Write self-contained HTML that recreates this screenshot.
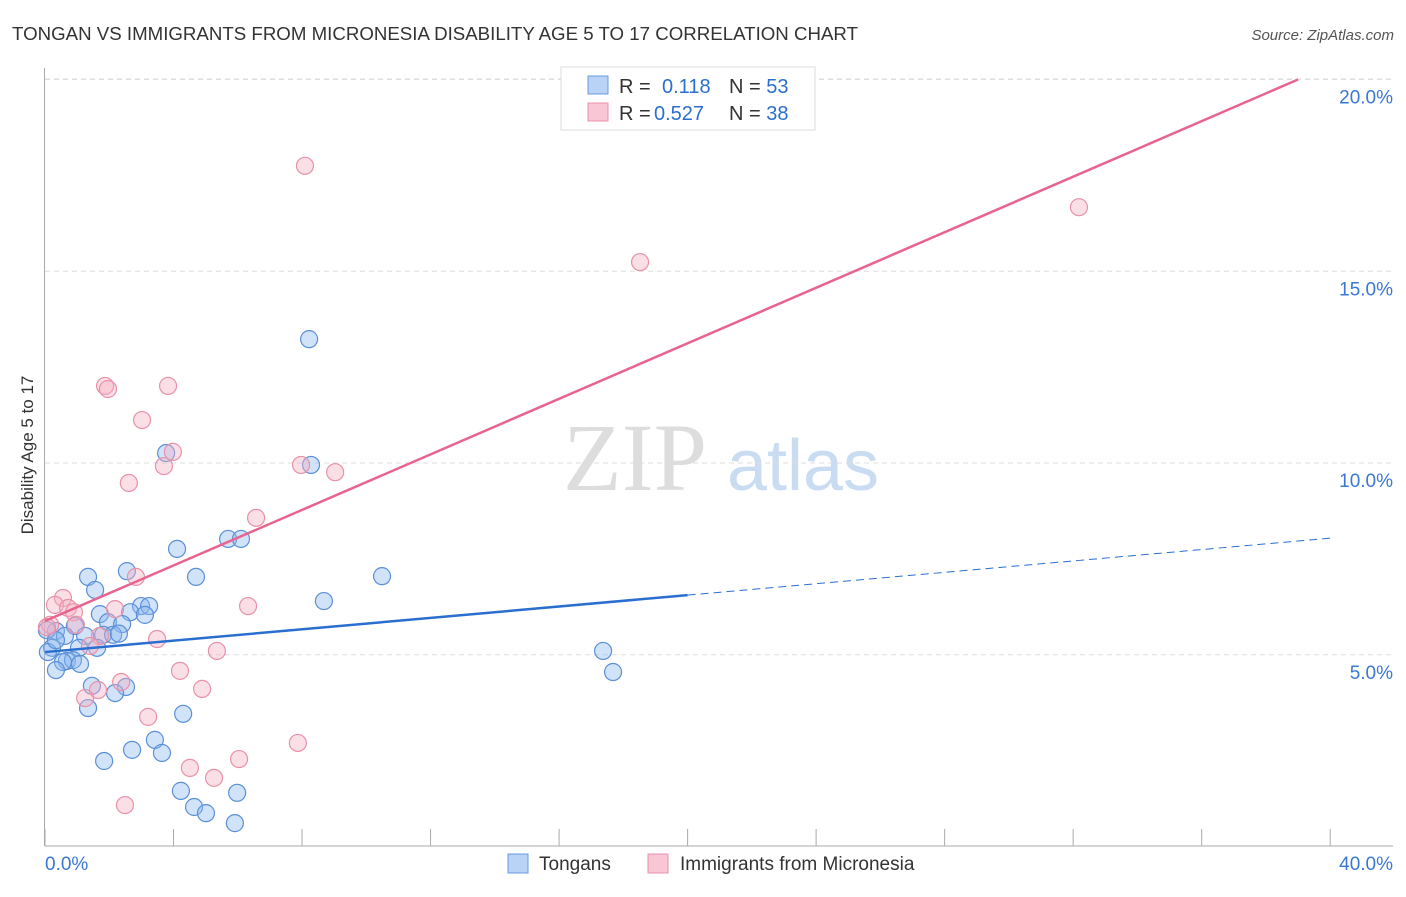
<!DOCTYPE html>
<html><head><meta charset="utf-8"><style>
body{margin:0;background:#fff;font-family:"Liberation Sans",sans-serif}
</style></head><body>
<svg id="chart" width="1406" height="892" xmlns="http://www.w3.org/2000/svg">
<text x="12" y="40" font-size="18" fill="#333" textLength="846" lengthAdjust="spacingAndGlyphs">TONGAN VS IMMIGRANTS FROM MICRONESIA DISABILITY AGE 5 TO 17 CORRELATION CHART</text>
<text x="1394" y="40" font-size="15" fill="#555" font-style="italic" text-anchor="end">Source: ZipAtlas.com</text>
<text transform="translate(33,455) rotate(-90)" font-size="17" fill="#333" text-anchor="middle">Disability Age 5 to 17</text>
<g>
<text x="635" y="490" font-size="96" fill="#ddd" font-family="Liberation Serif,serif" text-anchor="middle">ZIP</text>
<text x="803" y="490" font-size="72" fill="#c9dcf2" text-anchor="middle">atlas</text>
</g>
<g id="grid"></g><g id="axes"></g><g id="pts"></g><g id="lines"></g>
<g>
<rect x="561" y="67" width="254" height="63" fill="#fff" stroke="#ddd"/>
<rect x="588" y="76" width="20" height="18" fill="#b8d3f5" stroke="#6a9ae0"/>
<text x="619" y="93" font-size="20" fill="#333">R = <tspan x="662" fill="#2a6fd0">0.118</tspan><tspan x="729">N = </tspan><tspan fill="#2a6fd0">53</tspan></text>
<rect x="588" y="103" width="20" height="18" fill="#f8c6d4" stroke="#e891a8"/>
<text x="619" y="120" font-size="20" fill="#333">R = <tspan x="654" fill="#2a6fd0">0.527</tspan><tspan x="729">N = </tspan><tspan fill="#2a6fd0">38</tspan></text>
</g>
<g>
<rect x="508" y="854" width="20" height="19" fill="#b8d3f5" stroke="#6a9ae0"/>
<text x="539" y="870" font-size="19" fill="#333">Tongans</text>
<rect x="648" y="854" width="20" height="19" fill="#f8c6d4" stroke="#e891a8"/>
<text x="680" y="870" font-size="19" fill="#333">Immigrants from Micronesia</text>
</g>
</svg>
<script>
const xTicks=[0,4,8,12,16,20,24,28,32,36,40];
const yTicks=[5,10,15,20];
const blueX=[8.22,8.28,3.77,4.11,5.70,6.10,10.49,4.70,2.55,1.34,1.56,8.68,2.99,3.24,1.71,2.65,3.11,1.96,2.40,0.93,0.34,0.06,0.62,1.25,1.81,2.12,2.30,1.06,1.62,0.22,0.09,0.68,0.87,0.56,1.09,0.34,17.37,17.68,1.46,2.52,2.18,1.34,4.30,3.42,2.71,3.64,1.84,4.23,4.64,5.01,5.98,5.91,0.34];
const blueY=[13.23,9.95,10.26,7.76,8.02,8.02,7.05,7.03,7.18,7.03,6.69,6.40,6.27,6.27,6.06,6.11,6.04,5.85,5.80,5.75,5.62,5.64,5.49,5.49,5.52,5.52,5.55,5.18,5.18,5.18,5.07,4.84,4.86,4.81,4.76,4.60,5.10,4.55,4.19,4.16,4.00,3.61,3.46,2.78,2.52,2.44,2.23,1.45,1.03,0.87,1.40,0.61,5.38];
const pinkX=[8.09,32.18,18.52,1.87,1.96,3.83,3.02,3.98,3.70,7.97,9.03,2.61,6.57,2.83,0.56,0.31,0.72,0.90,2.18,6.32,0.16,0.96,1.71,3.49,5.35,1.40,4.20,4.89,2.37,1.65,1.25,3.21,7.87,6.04,4.51,5.26,2.49,0.06];
const pinkY=[17.75,16.67,15.24,12.01,11.93,12.01,11.12,10.29,9.92,9.95,9.76,9.48,8.57,7.03,6.48,6.30,6.22,6.11,6.19,6.27,5.78,5.78,5.49,5.41,5.10,5.23,4.58,4.11,4.29,4.08,3.87,3.38,2.70,2.28,2.05,1.79,1.08,5.72];
const blueFit=[5.07,8.04];
const pinkFit=[5.88,20.0];
const pinkFitEnd=39.0;
const blueSolidEnd=20;

const NS="http://www.w3.org/2000/svg";
const X=v=>45+v*32.13, Y=v=>846.5-v*38.35;
function mk(t,a,p){const e=document.createElementNS(NS,t);for(const k in a)e.setAttribute(k,a[k]);document.getElementById(p).appendChild(e);return e;}
yTicks.forEach(t=>{
 const g=mk('line',{x1:45,x2:1393,y1:Y(t),y2:Y(t),stroke:'#ddd','stroke-dasharray':'5,4'},'grid');
 
 
 const l=mk('text',{x:1393,y:Y(t)+24,'font-size':19,fill:'#3a78d4','text-anchor':'end'},'axes');
 l.textContent=t.toFixed(1)+'%';
 
 
});
const topLine=mk('line',{x1:45,x2:1393,y1:79,y2:79,stroke:'#ddd','stroke-dasharray':'5,4'},'grid');


mk('line',{x1:44.5,x2:44.5,y1:68,y2:846,stroke:'#aaa'},'axes');
mk('line',{x1:45,x2:1393,y1:846,y2:846,stroke:'#aaa'},'axes');
xTicks.forEach(t=>{
 const k=mk('line',{x1:X(t),x2:X(t),y1:829,y2:846,stroke:'#aaa'},'axes');
 
 
});
[[0,'0.0%','start',45],[40,'40.0%','end',1393]].forEach(([t,s,a,x])=>{
 const l=mk('text',{x:x,y:870,'font-size':19,fill:'#3a78d4','text-anchor':a},'axes');
 l.textContent=s;
 
 
});
blueX.forEach((v,i)=>{
 const c=mk('circle',{cx:X(v),cy:Y(blueY[i]),r:8.5,fill:'rgba(140,185,240,0.4)',stroke:'#5b8fd8','stroke-width':1.2},'pts');
 
 
});
pinkX.forEach((v,i)=>{
 const c=mk('circle',{cx:X(v),cy:Y(pinkY[i]),r:8.5,fill:'rgba(245,175,195,0.4)',stroke:'#e891a8','stroke-width':1.2},'pts');
 
 
});
const bAt=v=>blueFit[0]+(blueFit[1]-blueFit[0])*v/40;
const b1=mk('line',{x1:X(0),y1:Y(bAt(0)),x2:X(blueSolidEnd),y2:Y(bAt(blueSolidEnd)),stroke:'#2a6fd0','stroke-width':2.5},'lines');


const b2=mk('line',{x1:X(blueSolidEnd),y1:Y(bAt(blueSolidEnd)),x2:X(40),y2:Y(bAt(40)),stroke:'#2a6fd0','stroke-width':1,'stroke-dasharray':'8,5'},'lines');


const p1=mk('line',{x1:X(0),y1:Y(pinkFit[0]),x2:X(pinkFitEnd),y2:Y(pinkFit[1]),stroke:'#e8648e','stroke-width':2.5},'lines');


</script>
</body></html>
